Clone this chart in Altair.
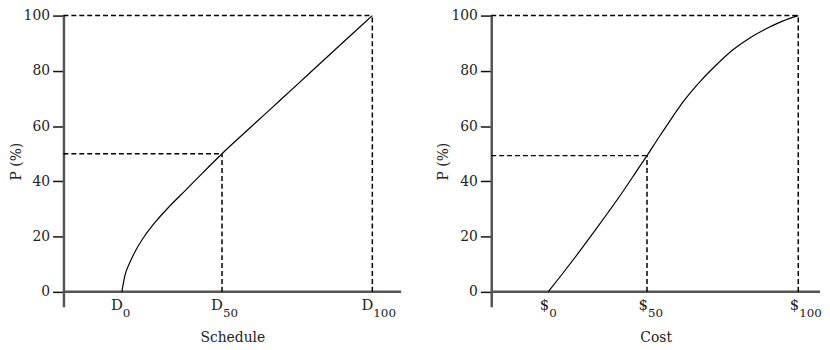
import altair as alt
import pandas as pd

# ---- data ----
p_ticks = [0, 20, 40, 60, 80, 100]
p_range = [-5.4, 100]

# Schedule panel
sched_x = [0, 1.2, 3.2, 5.8, 9.1, 13.7, 19.0, 25.6, 32.1, 40.0, 50, 60, 70, 80, 90, 100]
sched_p = [0, 5.8, 10.6, 15.4, 20.2, 25.6, 30.9, 36.9, 42.9, 50.0, 58.4, 66.7, 75.0, 83.4, 91.7, 100]
sched_ticks = [0, 40, 100]
sched_letter = ["D", "D", "D"]
sched_sub = ["0", "50", "100"]
sched_p50 = 50.0
sched_range = [-23.3, 111.5]

# Cost panel
cost_x = [0, 6, 12, 18, 24, 30, 36, 39.5, 44, 48, 54.3, 60.9, 67.4, 74.0, 80.6, 87.1, 93.7, 100]
cost_p = [0, 6.9, 14.0, 21.3, 28.8, 36.5, 44.6, 49.3, 55.6, 61.0, 69.2, 76.3, 82.3, 87.7, 91.9, 95.2, 98.0, 100]
cost_ticks = [0, 39.5, 100]
cost_letter = ["$", "$", "$"]
cost_sub = ["0", "50", "100"]
cost_p50 = 49.3
cost_range = [-22.8, 108.7]

FONT = "DejaVu Serif"
TXT = "#222"


def panel(xs, ps, ticks, letters, subs, p50, xr, title, width):
    xaxis = alt.Axis(labels=False, domain=False, ticks=False, tickSize=0, grid=False,
                     title=title, titleFont=FONT, titleFontSize=14, titleFontWeight="normal",
                     titleColor=TXT, titlePadding=24)
    yaxis = alt.Axis(values=p_ticks, domain=True, domainColor="#555", domainWidth=2.5,
                     ticks=True, tickColor="#111", tickWidth=1.5, tickSize=11, grid=False,
                     labelPadding=3, labelFont=FONT, labelFontSize=14, labelColor=TXT,
                     title="P (%)", titleFont=FONT, titleFontSize=14, titleFontWeight="normal",
                     titleColor=TXT, titlePadding=0)
    x_enc = alt.X("x:Q", scale=alt.Scale(domain=xr, nice=False, zero=False), axis=xaxis)
    y_enc = alt.Y("y:Q", scale=alt.Scale(domain=p_range, nice=False, zero=False), axis=yaxis)

    curve = pd.DataFrame({"x": xs, "y": ps})
    guides = pd.DataFrame({
        "x": [xr[0], ticks[1], xr[0], ticks[2]],
        "x2": [ticks[1], ticks[1], ticks[2], ticks[2]],
        "y": [p50, 0, 100, 0],
        "y2": [p50, p50, 100, 100],
    })
    base_line = pd.DataFrame({"x": [xr[0]], "x2": [xr[1]], "y": [0]})
    lab = pd.DataFrame({"x": ticks, "y": [p_range[0]] * len(ticks), "main": letters, "sub": subs})

    axisline = alt.Chart(base_line).mark_rule(color="#555", strokeWidth=2.5).encode(
        x=x_enc, x2="x2:Q", y=y_enc)
    dashed = alt.Chart(guides).mark_rule(color="black", strokeWidth=1.5, strokeDash=[5, 3]).encode(
        x=x_enc, x2="x2:Q", y=y_enc, y2="y2:Q")
    line = alt.Chart(curve).mark_line(color="black", strokeWidth=1.2, interpolate="monotone").encode(
        x=x_enc, y=y_enc)
    main_txt = alt.Chart(lab).mark_text(font=FONT, fontSize=15, color=TXT, align="right",
                                        baseline="alphabetic", dx=1, dy=3).encode(
        x=x_enc, y=y_enc, text="main:N")
    sub_txt = alt.Chart(lab).mark_text(font=FONT, fontSize=12, color=TXT, align="left",
                                       baseline="alphabetic", dx=1, dy=10).encode(
        x=x_enc, y=y_enc, text="sub:N")
    return alt.layer(axisline, dashed, line, main_txt, sub_txt).properties(width=width, height=294)


left = panel(sched_x, sched_p, sched_ticks, sched_letter, sched_sub, sched_p50, sched_range, "Schedule", 341)
right = panel(cost_x, cost_p, cost_ticks, cost_letter, cost_sub, cost_p50, cost_range, "Cost", 332)

chart = alt.hconcat(left, right, spacing=34).properties(
    padding={"left": 1, "top": -1, "right": 0, "bottom": 0}
).configure_view(stroke=None).resolve_scale(x="independent")

chart.save("out.html", embed_options={"renderer": "svg", "actions": False})
